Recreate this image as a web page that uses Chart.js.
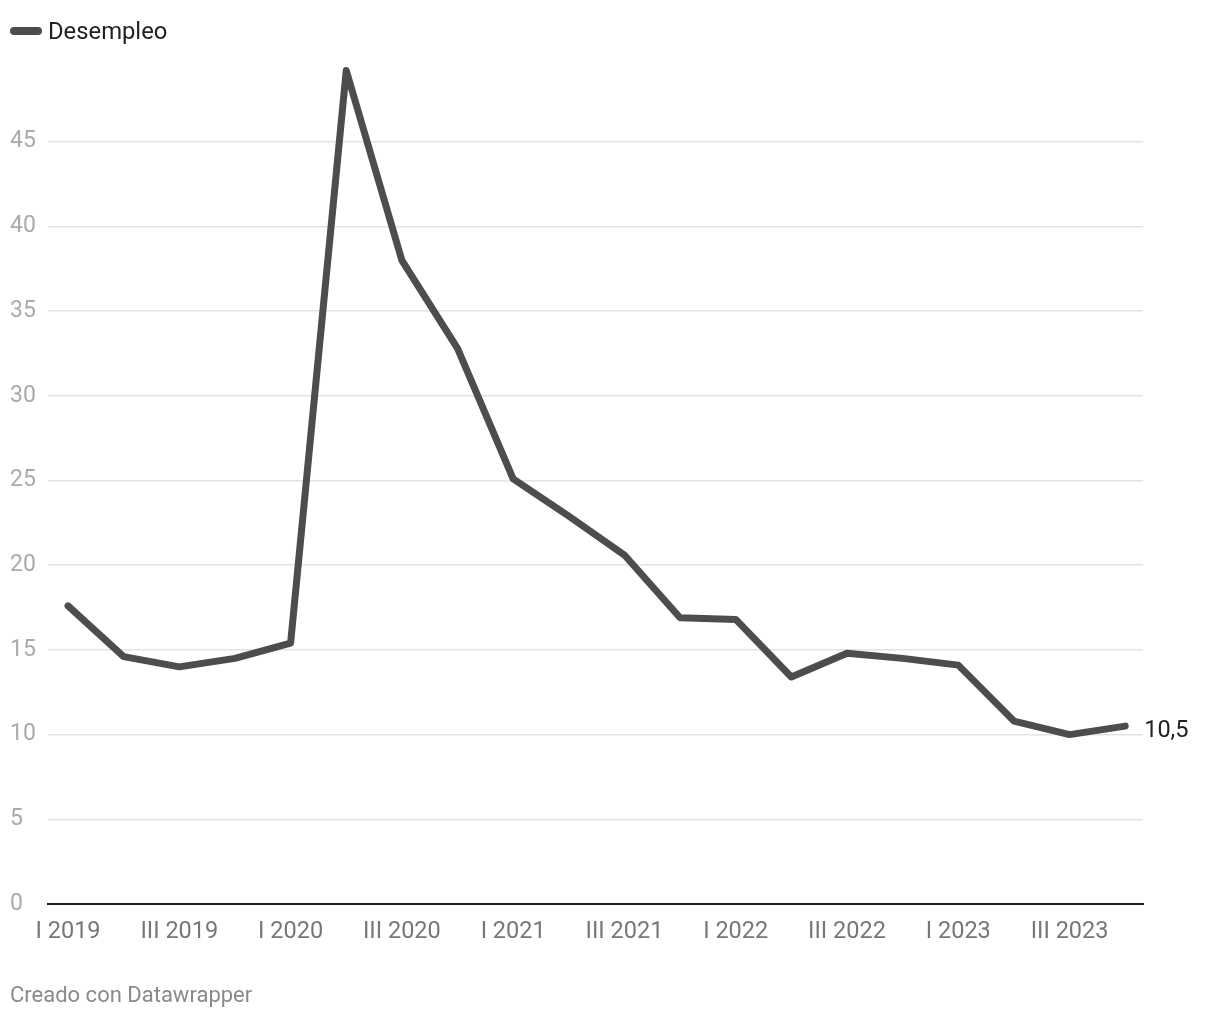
<!DOCTYPE html>
<html>
<head>
<meta charset="utf-8">
<script src="https://cdn.jsdelivr.net/npm/chart.js@4"></script>
<style>
  body { margin: 0; background: #fff; font-family: Roboto, sans-serif; }
  .wrap { position: relative; width: 1220px; height: 1020px; }
  #myChart { position: absolute; left: 0; top: 0; }
  .legend { position: absolute; left: 10px; top: 17px; display: flex; align-items: center; font-size: 23.8px; color: #222; }
  .legend .swatch { width: 32px; height: 8px; border-radius: 4px; background: #4d4d4d; margin-right: 6px; }
  .footer { position: absolute; left: 10px; top: 982px; font-size: 22px; color: #8a8a8a; }
</style>
</head>
<body>
<div class="wrap">
  <canvas id="myChart" width="1220" height="1020"></canvas>
  <div class="legend"><span class="swatch"></span><span>Desempleo</span></div>
  <div class="footer">Creado con Datawrapper</div>
</div>
<script>
/* Data */
const quarters = [
  'I 2019', 'II 2019', 'III 2019', 'IV 2019',
  'I 2020', 'II 2020', 'III 2020', 'IV 2020',
  'I 2021', 'II 2021', 'III 2021', 'IV 2021',
  'I 2022', 'II 2022', 'III 2022', 'IV 2022',
  'I 2023', 'II 2023', 'III 2023', 'IV 2023'
];
const desempleo = [
  17.6, 14.6, 14.0, 14.5,
  15.4, 49.2, 38.0, 32.8,
  25.1, 22.9, 20.6, 16.9,
  16.8, 13.4, 14.8, 14.5,
  14.1, 10.8, 10.0, 10.5
];
const yTicks = [0, 5, 10, 15, 20, 25, 30, 35, 40, 45];

// label next to the last point
const endLabel = {
  id: 'endLabel',
  afterDatasetsDraw(chart) {
    const meta = chart.getDatasetMeta(0);
    const last = meta.data[meta.data.length - 1];
    const ctx = chart.ctx;
    ctx.save();
    ctx.font = '23.5px Roboto';
    ctx.fillStyle = '#222';
    ctx.textBaseline = 'middle';
    ctx.fillText(desempleo[desempleo.length - 1].toString().replace('.', ','), last.x + 19, last.y + 5);
    ctx.restore();
  }
};

function initChart() {
  const ctx = document.getElementById('myChart').getContext('2d');

  // eslint-disable-next-line no-unused-vars
  const myChart = new Chart(ctx, {
    type: 'line',
    data: {
      datasets: [{
        label: 'Desempleo',
        data: desempleo.map((v, i) => ({ x: i, y: v })),
        borderColor: '#4d4d4d',
        backgroundColor: '#4d4d4d',
        borderWidth: 7,
        borderCapStyle: 'round',
        borderJoinStyle: 'round',
        pointRadius: 0,
        tension: 0,
      }]
    },
    options: {
      responsive: false,
      animation: false,
      layout: { padding: { left: 10, right: 77, top: 57, bottom: 0 } },
      plugins: {
        legend: { display: false },
        tooltip: { enabled: false },
      },
      scales: {
        x: {
          type: 'linear',
          min: -0.36,
          max: 19.32,
          afterFit: (scale) => { scale.height = 116; },
          afterBuildTicks: (scale) => {
            scale.ticks = quarters.map((q, i) => ({ value: i })).filter(t => t.value % 2 === 0);
          },
          border: { display: true, color: '#222', width: 2 },
          grid: { display: false, drawTicks: false },
          ticks: {
            autoSkip: false,
            maxRotation: 0,
            padding: 14,
            color: '#777',
            font: { family: 'Roboto', size: 23.5 },
            callback: (v) => quarters[v],
          }
        },
        y: {
          min: 0,
          max: 50,
          afterFit: (scale) => { scale.width = 38; },
          afterBuildTicks: (scale) => {
            scale.ticks = yTicks.map(v => ({ value: v }));
          },
          border: { display: false },
          grid: {
            color: (c) => c.tick && c.tick.value === 0 ? 'rgba(0,0,0,0)' : '#e3e3e3',
            lineWidth: 1.5,
            drawTicks: false,
          },
          ticks: {
            crossAlign: 'far',
            padding: 10,
            color: '#aaa',
            font: { family: 'Roboto', size: 23 },
          }
        }
      }
    },
    plugins: [endLabel]
  });
}

const app = () => {
  initChart();
};

app();
</script>
</body>
</html>
